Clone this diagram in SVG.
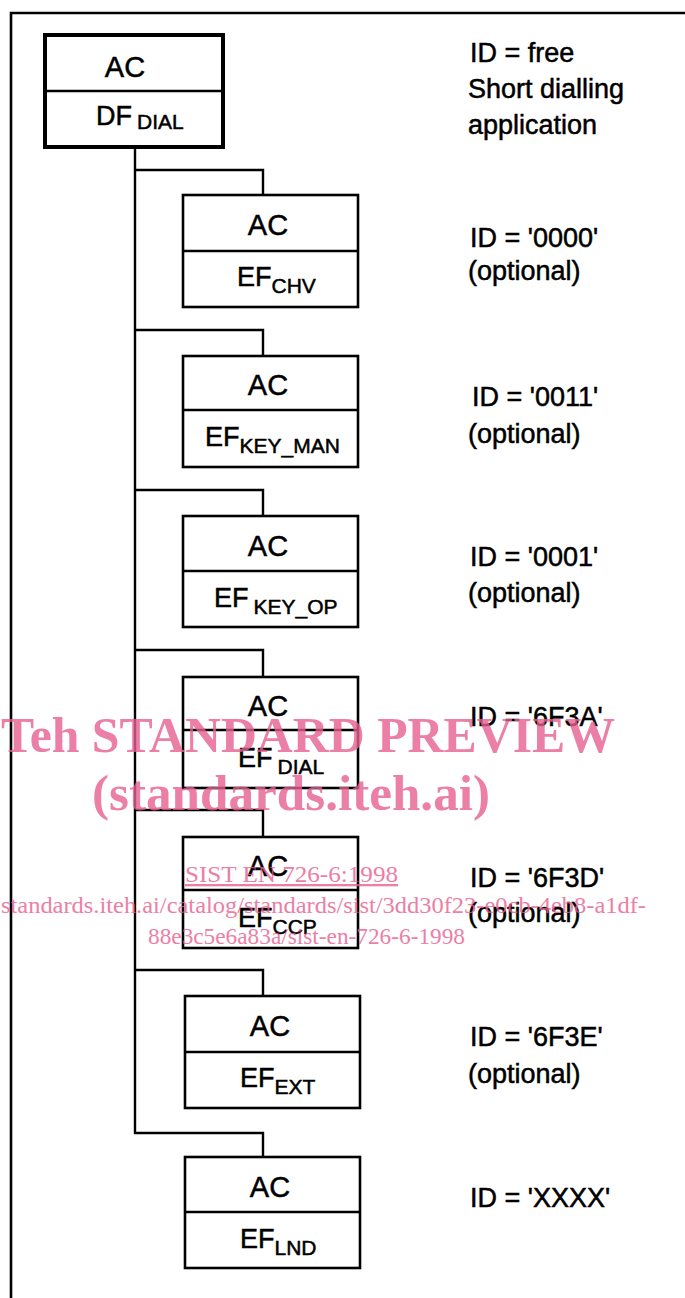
<svg xmlns="http://www.w3.org/2000/svg" width="685" height="1298" viewBox="0 0 685 1298">
<style>
.box{fill:#fff;stroke:#000;stroke-width:2.6}
.root{fill:#fff;stroke:#000;stroke-width:4}
.div{stroke:#000;stroke-width:2.6}
.ln{fill:none;stroke:#000;stroke-width:2.4}
.t{font-family:"Liberation Sans",Arial,sans-serif;fill:#000;stroke:#000;stroke-width:0.5}
.ac{font-size:29px;text-anchor:middle}
.ef{font-size:27px}
.sub{font-size:21px}
.id{font-size:27px}
.wm{font-family:"Liberation Serif","Times New Roman",serif;fill:#e8608f;opacity:0.8}
</style>
<rect width="685" height="1298" fill="#fff"/>
<g id="frame" class="ln">
<path d="M11,1298 V13 H685" stroke-width="2.6"/>
</g>
<g id="connectors" class="ln">
<path d="M135,147 V1133 H263 V1157"/>
<path d="M135,170 H263 V195"/>
<path d="M135,330 H263 V356"/>
<path d="M135,490 H263 V516"/>
<path d="M135,650 H263 V677"/>
<path d="M135,810 H263 V837"/>
<path d="M135,970 H263 V996"/>
</g>
<g id="root">
<rect class="root" x="45" y="35" width="178" height="112"/>
<line class="div" x1="45" y1="91" x2="223" y2="91"/>
<text class="t ac" x="125" y="77">AC</text>
<text class="t ef" x="96" y="125">DF<tspan class="sub" dx="5" dy="4">DIAL</tspan></text>
</g>
<g id="ef-chv">
<rect class="box" x="183" y="195" width="175" height="112"/>
<line class="div" x1="183" y1="251" x2="358" y2="251"/>
<text class="t ac" x="268" y="235">AC</text>
<text class="t ef" x="237" y="286">EF<tspan class="sub" dy="7">CHV</tspan></text>
</g>
<g id="ef-key-man">
<rect class="box" x="183" y="356" width="175" height="111"/>
<line class="div" x1="183" y1="410" x2="358" y2="410"/>
<text class="t ac" x="268" y="395">AC</text>
<text class="t ef" x="205" y="446">EF<tspan class="sub" dy="7">KEY_MAN</tspan></text>
</g>
<g id="ef-key-op">
<rect class="box" x="183" y="516" width="175" height="111"/>
<line class="div" x1="183" y1="571" x2="358" y2="571"/>
<text class="t ac" x="268" y="556">AC</text>
<text class="t ef" x="214" y="607">EF<tspan class="sub" dx="5" dy="7">KEY_OP</tspan></text>
</g>
<g id="ef-dial">
<rect class="box" x="183" y="677" width="175" height="111"/>
<line class="div" x1="183" y1="730" x2="358" y2="730"/>
<text class="t ac" x="268" y="716">AC</text>
<text class="t ef" x="238" y="767">EF<tspan class="sub" dx="5" dy="7">DIAL</tspan></text>
</g>
<g id="ef-ccp">
<rect class="box" x="183" y="837" width="175" height="111"/>
<line class="div" x1="183" y1="890" x2="358" y2="890"/>
<text class="t ac" x="268" y="876">AC</text>
<text class="t ef" x="238" y="927">EF<tspan class="sub" dy="7">CCP</tspan></text>
</g>
<g id="ef-ext">
<rect class="box" x="185" y="996" width="175" height="112"/>
<line class="div" x1="185" y1="1052" x2="360" y2="1052"/>
<text class="t ac" x="270" y="1036">AC</text>
<text class="t ef" x="240" y="1087">EF<tspan class="sub" dy="7">EXT</tspan></text>
</g>
<g id="ef-lnd">
<rect class="box" x="185" y="1157" width="175" height="111"/>
<line class="div" x1="185" y1="1212" x2="360" y2="1212"/>
<text class="t ac" x="270" y="1197">AC</text>
<text class="t ef" x="240" y="1248">EF<tspan class="sub" dy="7">LND</tspan></text>
</g>
<g id="labels" class="t id">
<text x="470" y="62">ID = free</text>
<text x="468" y="98">Short dialling</text>
<text x="468" y="134">application</text>
<text x="470" y="247">ID = '0000'</text>
<text x="468" y="280">(optional)</text>
<text x="472" y="406">ID = '0011'</text>
<text x="468" y="443">(optional)</text>
<text x="470" y="566">ID = '0001'</text>
<text x="468" y="602">(optional)</text>
<text x="470" y="726">ID = '6F3A'</text>
<text x="470" y="887">ID = '6F3D'</text>
<text x="468" y="922">(optional)</text>
<text x="470" y="1046">ID = '6F3E'</text>
<text x="468" y="1083">(optional)</text>
<text x="470" y="1207">ID = 'XXXX'</text>
</g>
<g id="watermark" class="wm">
<text x="1" y="752" font-size="50" font-weight="bold" textLength="614" lengthAdjust="spacingAndGlyphs">Teh STANDARD PREVIEW</text>
<text x="92" y="810" font-size="50" font-weight="bold" textLength="398" lengthAdjust="spacingAndGlyphs">(standards.iteh.ai)</text>
<text x="185" y="882" font-size="23" textLength="213" lengthAdjust="spacingAndGlyphs" text-decoration="underline">SIST EN 726-6:1998</text>
<text x="1" y="913" font-size="23" textLength="645" lengthAdjust="spacingAndGlyphs">standards.iteh.ai/catalog/standards/sist/3dd30f23-e0cb-4eb8-a1df-</text>
<text x="148" y="944" font-size="23" textLength="317" lengthAdjust="spacingAndGlyphs">88e3c5e6a83a/sist-en-726-6-1998</text>
</g>
</svg>
